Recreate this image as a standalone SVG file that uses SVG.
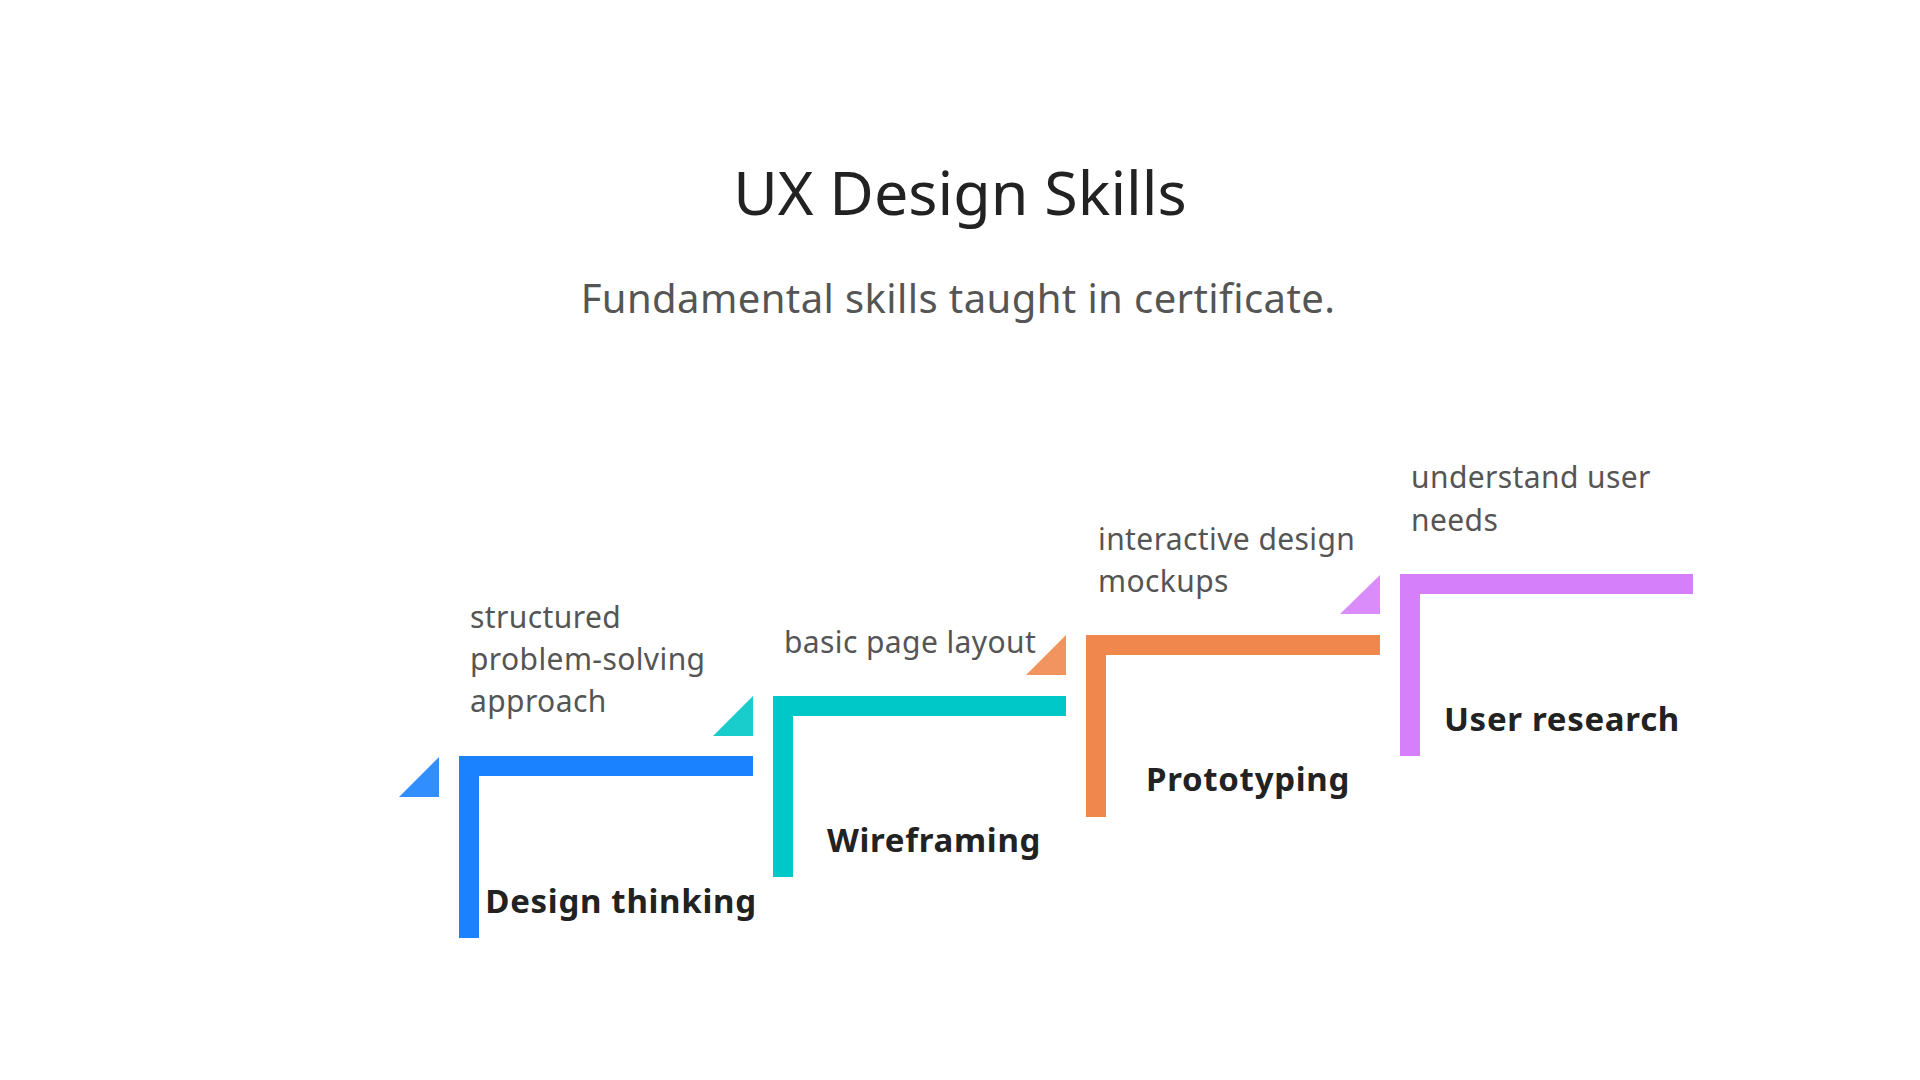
<svg xmlns="http://www.w3.org/2000/svg" width="1920" height="1080" viewBox="0 0 1920 1080">
<style>
.title{font-family:"Noto Sans","Open Sans",sans-serif;font-size:61px;fill:#222;text-anchor:middle}
.sub{font-family:"Noto Sans","Open Sans",sans-serif;font-size:40px;fill:#555;text-anchor:middle;letter-spacing:0.4px}
.desc{font-family:"Noto Sans","Open Sans",sans-serif;font-size:30px;fill:#555;letter-spacing:0.4px}
.lbl{font-family:"Noto Sans","Open Sans",sans-serif;font-size:33px;font-weight:bold;fill:#222;text-anchor:middle;letter-spacing:0.7px}
.tri{opacity:0.9}
</style>
<rect width="1920" height="1080" fill="#fff"/>
<text class="title" x="960" y="215">UX Design Skills</text>
<text class="sub" x="958" y="313">Fundamental skills taught in certificate.</text>

<g id="step-design-thinking" fill="#1a82ff">
<path d="M459 756H753V776H479V938H459Z"/>
<polygon class="tri" points="399,797 439,797 439,757"/>
<text class="desc" x="470"><tspan x="470" y="628">structured</tspan><tspan x="470" y="670">problem-solving</tspan><tspan x="470" y="712">approach</tspan></text>
<text class="lbl" x="621" y="913">Design thinking</text>
</g>

<g id="step-wireframing" fill="#00c8c8">
<path d="M773 696H1066V716H793V877H773Z"/>
<polygon class="tri" points="713,736 753,736 753,696"/>
<text class="desc" x="784" y="653">basic page layout</text>
<text class="lbl" x="934" y="852">Wireframing</text>
</g>

<g id="step-prototyping" fill="#f0884e">
<path d="M1086 635H1380V655H1106V817H1086Z"/>
<polygon class="tri" points="1026,675 1066,675 1066,635"/>
<text class="desc"><tspan x="1098" y="550">interactive design</tspan><tspan x="1098" y="592">mockups</tspan></text>
<text class="lbl" x="1248" y="791">Prototyping</text>
</g>

<g id="step-user-research" fill="#d580fa">
<path d="M1400 574H1693V594H1420V756H1400Z"/>
<polygon class="tri" points="1340,614 1380,614 1380,575"/>
<text class="desc"><tspan x="1411" y="488">understand user</tspan><tspan x="1411" y="531">needs</tspan></text>
<text class="lbl" x="1562" y="731">User research</text>
</g>

<g id="connectors"></g>
</svg>
